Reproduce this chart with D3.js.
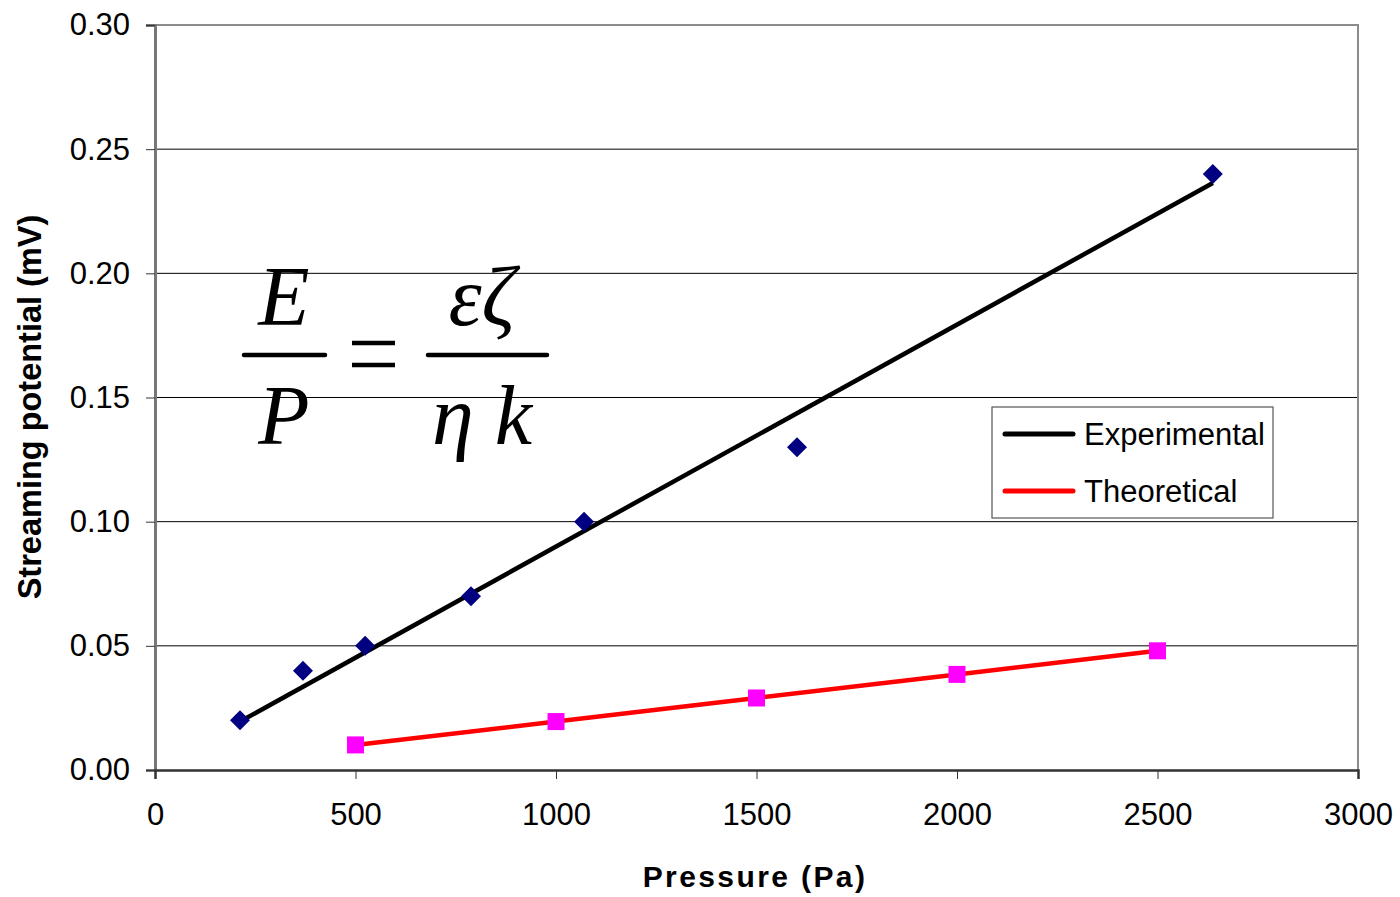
<!DOCTYPE html>
<html lang="en">
<head>
<meta charset="UTF-8">
<title>Streaming potential vs pressure</title>
<script src="https://d3js.org/d3.v7.min.js"></script>
<style>
  body { margin: 0; background: #fff; }
  text { font-family: Arial, "Liberation Sans", sans-serif; }
  text.math { font-family: "Liberation Serif", "DejaVu Serif", serif; font-style: italic; }
</style>
</head>
<body>
<svg width="1400" height="897"></svg>
<script>
// data
const expPressure = [212, 369, 524, 788, 1070, 1601, 2638];
const expPotential = [0.02, 0.04, 0.05, 0.07, 0.10, 0.13, 0.24];
// trendline end points
const trendPressure = [212, 2638];
const trendPotential = [0.0195, 0.2364];
const theoPressure = [500, 1000, 1500, 2000, 2500];
const theoPotential = [0.0101, 0.0195, 0.029, 0.0385, 0.048];
const xTicks = [0, 500, 1000, 1500, 2000, 2500, 3000];
const yTicks = [0, 0.05, 0.10, 0.15, 0.20, 0.25, 0.30];
const seriesNames = ["Experimental", "Theoretical"];

let svg = d3.select('svg')
let plotLeft = 155, plotRight = 1358, plotTop = 25, plotBottom = 770

let x = d3.scaleLinear().domain([0, 3000]).range([plotLeft, plotRight])
let y = d3.scaleLinear().domain([0, 0.30]).range([plotBottom, plotTop])

// gridlines
svg.append("g")
    .selectAll("line")
    .data(yTicks.filter(d => d > 0 && d < 0.30))
    .enter()
    .append("line")
    .attr("x1", plotLeft).attr("x2", plotRight)
    .attr("y1", d => y(d)).attr("y2", d => y(d))
    .attr("stroke", "#000").attr("stroke-width", 1)

// frame top + right
svg.append("path")
    .attr("d", `M${plotLeft},${plotTop}H${plotRight}V${plotBottom}`)
    .attr("fill", "none").attr("stroke", "#8c8c8c").attr("stroke-width", 2)

// axes
let yAxis = svg.append("g")
    .attr("transform", `translate(${plotLeft},0)`)
    .call(d3.axisLeft(y).tickValues(yTicks).tickFormat(d3.format(".2f")).tickSize(9).tickPadding(16))
let xAxis = svg.append("g")
    .attr("transform", `translate(0,${plotBottom})`)
    .call(d3.axisBottom(x).tickValues(xTicks).tickFormat(d3.format("d")).tickSize(9).tickPadding(24))

yAxis.select(".domain").attr("stroke", "#777").attr("stroke-width", 3)
xAxis.select(".domain").attr("stroke", "#333").attr("stroke-width", 2.5)
svg.selectAll(".tick line").attr("stroke", "#333").attr("stroke-width", 1)
svg.selectAll(".tick text").attr("font-size", 31).attr("fill", "#000")

// axis titles
svg.append("text")
    .attr("x", 755).attr("y", 887)
    .attr("text-anchor", "middle")
    .attr("font-size", 30).attr("font-weight", "bold")
    .attr("letter-spacing", 2.4)
    .text("Pressure (Pa)")
svg.append("text")
    .attr("transform", "translate(41,407) rotate(-90)")
    .attr("text-anchor", "middle")
    .attr("font-size", 32.5).attr("font-weight", "bold")
    .text("Streaming potential (mV)")

// lines
let line = d3.line().x(d => x(d[0])).y(d => y(d[1]))
svg.append("path")
    .datum(d3.zip(trendPressure, trendPotential))
    .attr("d", line)
    .attr("fill", "none").attr("stroke", "#000").attr("stroke-width", 4.5)
svg.append("path")
    .datum(d3.zip(theoPressure, theoPotential))
    .attr("d", line)
    .attr("fill", "none").attr("stroke", "#ff0000").attr("stroke-width", 4.5)

// markers
svg.append("g")
    .selectAll("path")
    .data(d3.zip(expPressure, expPotential))
    .enter()
    .append("path")
    .attr("d", "M0,-10L10,0L0,10L-10,0Z")
    .attr("transform", d => `translate(${x(d[0])},${y(d[1])})`)
    .attr("fill", "#000080")
svg.append("g")
    .selectAll("rect")
    .data(d3.zip(theoPressure, theoPotential))
    .enter()
    .append("rect")
    .attr("x", d => x(d[0]) - 8.5).attr("y", d => y(d[1]) - 8.5)
    .attr("width", 17).attr("height", 17)
    .attr("fill", "#ff00ff")

// legend
let legend = svg.append("g")
legend.append("rect")
    .attr("x", 992).attr("y", 407).attr("width", 281).attr("height", 111)
    .attr("fill", "#fff").attr("stroke", "#555").attr("stroke-width", 1.2)
let colors = ["#000", "#ff0000"]
seriesNames.forEach((name, i) => {
    let ly = 434 + i * 57
    legend.append("line")
        .attr("x1", 1005).attr("x2", 1073).attr("y1", ly).attr("y2", ly)
        .attr("stroke", colors[i]).attr("stroke-width", 5).attr("stroke-linecap", "round")
    legend.append("text")
        .attr("x", 1084).attr("y", ly + 11)
        .attr("font-size", 31)
        .text(name)
})

// equation
let eq = svg.append("g")
function mathText(tx, ty, s) {
    eq.append("text").attr("class", "math")
        .attr("x", tx).attr("y", ty)
        .attr("text-anchor", "middle")
        .attr("font-size", 84)
        .text(s)
}
mathText(284, 325, "E")
mathText(284, 444, "P")
mathText(482, 325, "εζ")
mathText(482, 444, "η k")
eq.append("line").attr("x1", 244).attr("x2", 325).attr("y1", 355).attr("y2", 355)
    .attr("stroke", "#000").attr("stroke-width", 4.5).attr("stroke-linecap", "round")
eq.append("line").attr("x1", 428).attr("x2", 547).attr("y1", 355).attr("y2", 355)
    .attr("stroke", "#000").attr("stroke-width", 4.5).attr("stroke-linecap", "round")
eq.append("line").attr("x1", 352).attr("x2", 395).attr("y1", 343).attr("y2", 343)
    .attr("stroke", "#000").attr("stroke-width", 4.5)
eq.append("line").attr("x1", 352).attr("x2", 395).attr("y1", 365).attr("y2", 365)
    .attr("stroke", "#000").attr("stroke-width", 4.5)
</script>
</body>
</html>
